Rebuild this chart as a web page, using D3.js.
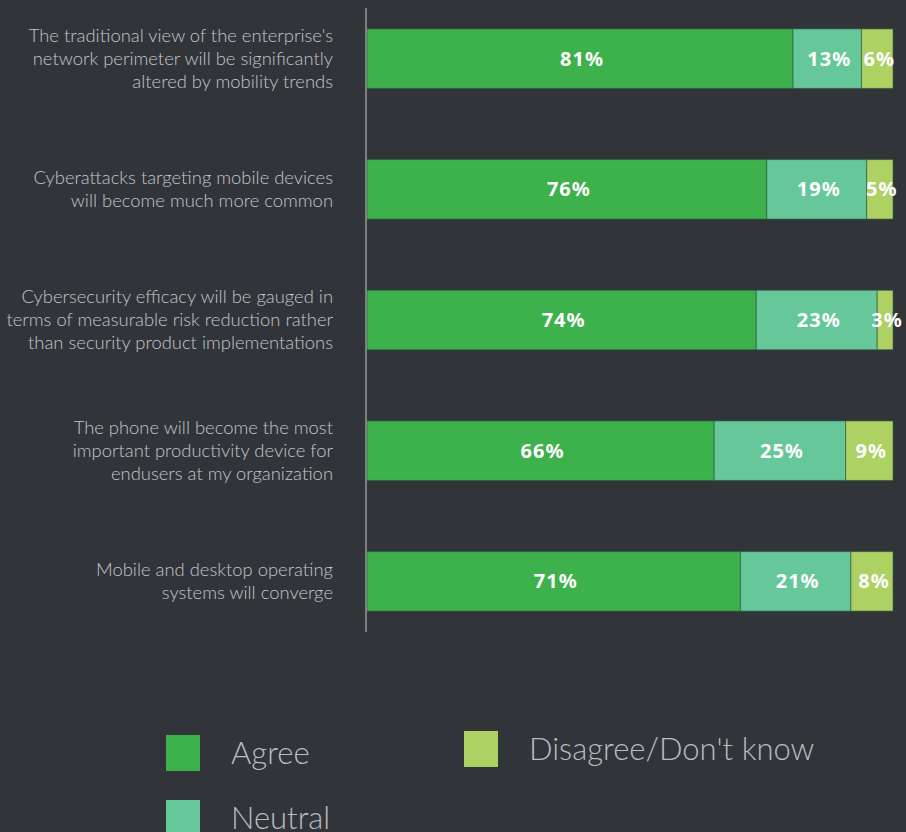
<!DOCTYPE html>
<html lang="en">
<head>
  <meta charset="UTF-8">
  <title>Mobility survey</title>
  <style>
    body { margin: 0; background: #313539; }
    svg { display: block; }
    .q { font-family: Lato, "Noto Sans", sans-serif; font-size: 18.4px; font-weight: 300; fill: #c3c7cb; }
    .val { font-family: "Noto Sans", Lato, sans-serif; font-size: 20px; font-weight: 700; fill: #ffffff; letter-spacing: 1px; }
    .leg { font-family: Lato, "Noto Sans", sans-serif; font-size: 31px; font-weight: 300; fill: #b9bdc1; }
  </style>
</head>
<body>
  <svg width="906" height="832"></svg>
  <script src="https://cdn.jsdelivr.net/npm/d3@7"></script>
  <script>
    // data
    var questions = [
      ["The traditional view of the enterprise's", "network perimeter will be significantly", "altered by mobility trends"],
      ["Cyberattacks targeting mobile devices", "will become much more common"],
      ["Cybersecurity efficacy will be gauged in", "terms of measurable risk reduction rather", "than security product implementations"],
      ["The phone will become the most", "important productivity device for", "endusers at my organization"],
      ["Mobile and desktop operating", "systems will converge"]
    ];
    var seriesNames = ["Agree", "Neutral", "Disagree/Don't know"];
    var agree = [81, 76, 74, 66, 71];
    var neutral = [13, 19, 23, 25, 21];
    var disagree = [6, 5, 3, 9, 8];
    var colors = ["#3db14b", "#66c79a", "#aed163"];

    var svg = d3.select("svg");
    var plotLeft = 366, plotTop = 8, plotH = 624;

    var x = d3.scaleLinear().domain([0, 100]).range([plotLeft + 1, plotLeft + 527]);
    var y = d3.scaleBand().domain(d3.range(questions.length))
      .range([plotTop, plotTop + plotH]).paddingInner(0.545).paddingOuter(0.16);

    var rows = questions.map(function (q, i) {
      return { i: i, Agree: agree[i], Neutral: neutral[i], "Disagree/Don't know": disagree[i] };
    });
    var stacked = d3.stack().keys(seriesNames)(rows);

    // bars
    var layer = svg.selectAll("g.layer").data(stacked).enter().append("g")
      .attr("class", "layer")
      .attr("fill", function (d, k) { return colors[k]; });

    layer.selectAll("rect").data(function (d) { return d; }).enter().append("rect")
      .attr("x", function (d) { return x(d[0]); })
      .attr("y", function (d) { return y(d.data.i); })
      .attr("width", function (d) { return x(d[1]) - x(d[0]); })
      .attr("height", y.bandwidth())
      .attr("stroke", "#2f5a3c")
      .attr("stroke-opacity", 0.6)
      .attr("stroke-width", 1);

    layer.selectAll("text").data(function (d) { return d; }).enter().append("text")
      .attr("class", "val")
      .attr("x", function (d) { return (x(d[0]) + x(d[1])) / 2 + 2; })
      .attr("y", function (d) { return y(d.data.i) + y.bandwidth() / 2 + 7; })
      .attr("text-anchor", "middle")
      .text(function (d) { return (d[1] - d[0]) + "%"; });

    // axis line
    svg.append("line")
      .attr("x1", plotLeft).attr("x2", plotLeft)
      .attr("y1", plotTop).attr("y2", plotTop + plotH)
      .attr("stroke", "#c9cbcd").attr("stroke-width", 1);

    // question labels
    var lh = 23;
    svg.selectAll("text.q").data(questions).enter().append("text")
      .attr("class", "q")
      .attr("text-anchor", "end")
      .each(function (lines, i) {
        var cy = y(i) + y.bandwidth() / 2;
        var y0 = cy - (lines.length - 1) * lh / 2 + 6;
        d3.select(this).selectAll("tspan").data(lines).enter().append("tspan")
          .attr("x", 333)
          .attr("y", function (l, j) { return y0 + j * lh; })
          .text(function (l) { return l; });
      });

    // legend
    var legPos = [[166, 735], [166, 800], [464, 731]];
    var leg = svg.selectAll("g.legend").data(seriesNames).enter().append("g")
      .attr("class", "legend")
      .attr("transform", function (d, k) { return "translate(" + legPos[k][0] + "," + legPos[k][1] + ")"; });
    leg.append("rect")
      .attr("width", 34).attr("height", 36)
      .attr("fill", function (d, k) { return colors[k]; });
    leg.append("text")
      .attr("class", "leg")
      .attr("x", 65).attr("y", 29)
      .text(function (d) { return d; });
  </script>
</body>
</html>
